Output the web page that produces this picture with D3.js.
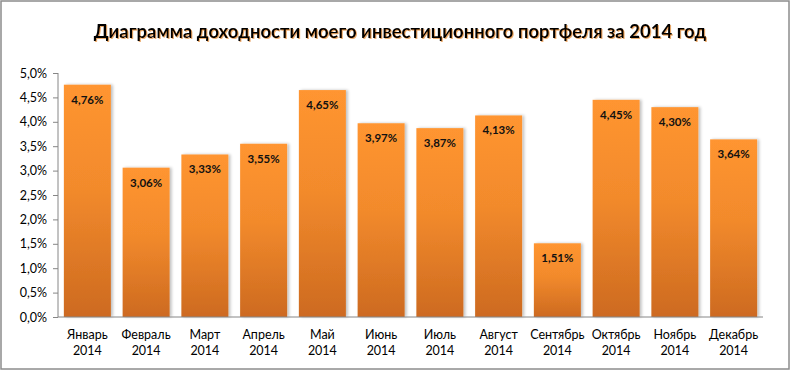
<!DOCTYPE html>
<html><head><meta charset="utf-8">
<script src="https://cdn.jsdelivr.net/npm/d3@7/dist/d3.min.js"></script>
<style>
body{margin:0;background:#fff;}
svg{display:block;font-family:Lato,"Open Sans",sans-serif;}
</style></head>
<body><svg id="c" width="790" height="370"></svg>
<script>
const months = ["Январь","Февраль","Март","Апрель","Май","Июнь","Июль","Август","Сентябрь","Октябрь","Ноябрь","Декабрь"];
const year = "2014";
const values = [4.76,3.06,3.33,3.55,4.65,3.97,3.87,4.13,1.51,4.45,4.30,3.64];
const yTicks = [0,0.5,1,1.5,2,2.5,3,3.5,4,4.5,5];
const title = "Диаграмма доходности моего инвестиционного портфеля за 2014 год";

const svg = d3.select("#c");
const W=790,H=370;
const m={left:58,right:27,top:73,bottom:53};
svg.append("rect").attr("x",1).attr("y",1).attr("width",W-2).attr("height",H-2)
  .attr("fill","#fff").attr("stroke","#8c8c8c").attr("stroke-width",1.5);

const defs=svg.append("defs");
const g1=defs.append("linearGradient").attr("id","bg").attr("x1",0).attr("y1",0).attr("x2",0).attr("y2",1);
g1.append("stop").attr("offset","0%").attr("stop-color","#FF9530");
g1.append("stop").attr("offset","45%").attr("stop-color","#F28A2C");
g1.append("stop").attr("offset","100%").attr("stop-color","#CD6A20");
const f=defs.append("filter").attr("id","sh").attr("x","-20%").attr("y","-20%").attr("width","150%").attr("height","140%");
f.append("feGaussianBlur").attr("in","SourceAlpha").attr("stdDeviation",1.5);
f.append("feOffset").attr("dx",1.5).attr("dy",0).attr("result","b");
f.append("feComponentTransfer").append("feFuncA").attr("type","linear").attr("slope",0.25);
const fm=f.append("feMerge");fm.append("feMergeNode");fm.append("feMergeNode").attr("in","SourceGraphic");
const tf=defs.append("filter").attr("id","ts").attr("x","-5%").attr("y","-30%").attr("width","110%").attr("height","160%");
tf.append("feGaussianBlur").attr("in","SourceAlpha").attr("stdDeviation",0.7).attr("result","bl");
tf.append("feOffset").attr("in","bl").attr("dx",1).attr("dy",1.2).attr("result","o");
tf.append("feFlood").attr("flood-color","#e07818").attr("flood-opacity",0.6);
tf.append("feComposite").attr("in2","o").attr("operator","in");
const tm=tf.append("feMerge");tm.append("feMergeNode");tm.append("feMergeNode").attr("in","SourceGraphic");

const x=d3.scaleBand().domain(months).range([m.left,W-m.right]).paddingInner(0.2).paddingOuter(0.1);
const y=d3.scaleLinear().domain([0,5]).range([H-m.bottom,m.top]);

svg.append("text").attr("x",400).attr("y",38).attr("text-anchor","middle")
  .attr("font-size",18.5).attr("font-weight","bold").attr("fill","#000").attr("filter","url(#ts)").text(title);

const ya=svg.append("g").attr("transform",`translate(${m.left},0)`)
  .call(d3.axisLeft(y).tickValues(yTicks).tickSize(5).tickPadding(6).tickFormat(d=>d.toFixed(1).replace(".",",")+"%"));
ya.selectAll("path,line").attr("stroke","#868686");
ya.selectAll("text").attr("font-size",12.5).attr("fill","#000").attr("font-family","Lato,sans-serif");
ya.select(".domain").attr("d",`M0,${y(5)}V${y(0)}`);

svg.selectAll("rect.bar").data(values).enter().append("rect").attr("class","bar")
  .attr("x",(d,i)=>x(months[i])).attr("width",x.bandwidth())
  .attr("y",d=>y(d)).attr("height",d=>y(0)-y(d))
  .attr("fill","url(#bg)").attr("filter","url(#sh)");

svg.selectAll("text.lbl").data(values).enter().append("text").attr("class","lbl")
  .attr("x",(d,i)=>x(months[i])+x.bandwidth()/2).attr("y",d=>y(d)+19)
  .attr("text-anchor","middle").attr("font-size",11.5).attr("font-weight","bold").attr("fill","#111")
  .text(d=>d.toFixed(2).replace(".",",")+"%");

const xa=svg.append("g").attr("transform",`translate(0,${y(0)})`)
  .call(d3.axisBottom(x).tickSize(0).tickFormat(""));
xa.select(".domain").attr("stroke","#868686").attr("d",`M${m.left},0H${W-m.right}`);
months.forEach(mn=>{
  const t=svg.append("text").attr("text-anchor","middle").attr("font-size",12.5).attr("fill","#000");
  t.append("tspan").attr("x",x(mn)+x.bandwidth()/2).attr("y",y(0)+22).text(mn);
  t.append("tspan").attr("x",x(mn)+x.bandwidth()/2).attr("y",y(0)+38).text(year);
});
</script></body></html>
